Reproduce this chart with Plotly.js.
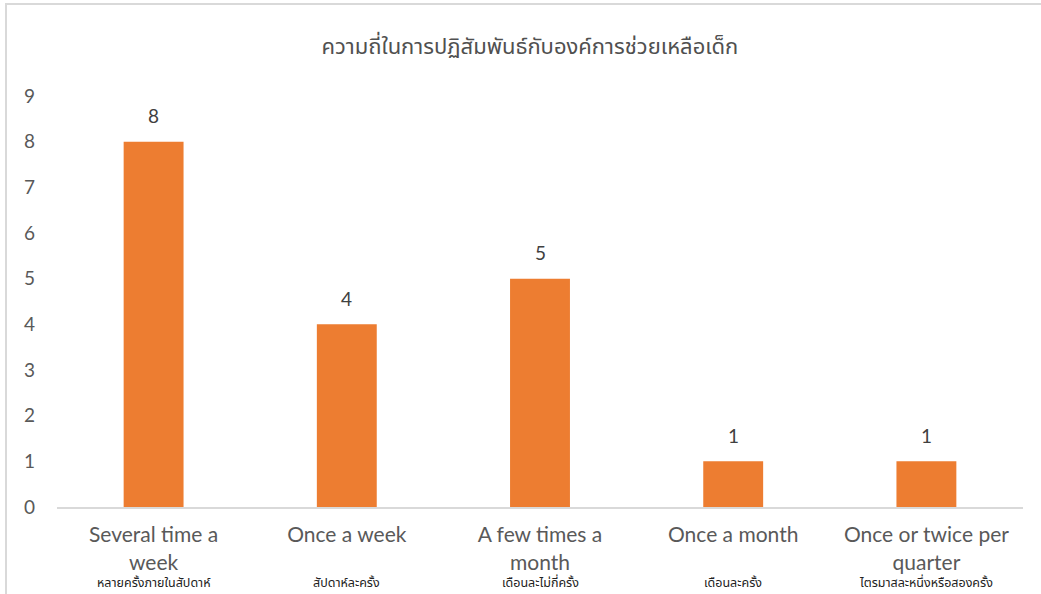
<!DOCTYPE html>
<html>
<head>
<meta charset="utf-8">
<script src="https://cdn.plot.ly/plotly-3.0.1.min.js"></script>
<style>
  html, body { margin: 0; padding: 0; background: #fff; }
  #wrap { position: relative; width: 1041px; height: 594px; overflow: hidden; }
  #chart { position: absolute; left: 0; top: 0; width: 1041px; height: 594px; }
  #frame { position: absolute; left: 5px; top: 3px; width: 1100px; height: 700px;
           border-left: 2px solid #d9d9d9; border-top: 2px solid #d9d9d9; pointer-events: none; }
</style>
</head>
<body>
<div id="wrap">
  <div id="chart"></div>
  <div id="frame"></div>
</div>
<script>
const chartTitle = "ความถี่ในการปฏิสัมพันธ์กับองค์การช่วยเหลือเด็ก";
const categories = ["Several time a week", "Once a week", "A few times a month", "Once a month", "Once or twice per quarter"];
const tickLabels = ["Several time a<br>week", "Once a week", "A few times a<br>month", "Once a month", "Once or twice per<br>quarter"];
const thaiLabels = ["หลายครั้งภายในสัปดาห์", "สัปดาห์ละครั้ง", "เดือนละไม่กี่ครั้ง", "เดือนละครั้ง", "ไตรมาสละหนึ่งหรือสองครั้ง"];
const values = [8, 4, 5, 1, 1];
const yTicks = [0, 1, 2, 3, 4, 5, 6, 7, 8, 9];

const fontMain = "Lato, 'Open Sans', sans-serif";
const grey = "#595959";

const trace = {
  type: "bar",
  x: categories,
  y: values,
  marker: { color: "#ED7D31", line: { width: 0 } },
  hoverinfo: "x+y"
};

const annotations = [];
categories.forEach((c, i) => {
  annotations.push({
    x: c, y: values[i], xref: "x", yref: "y",
    text: String(values[i]), showarrow: false,
    yanchor: "middle", yshift: 26,
    font: { family: fontMain, size: 19, color: "#404040" }
  });
  annotations.push({
    x: c, y: -0.186, xref: "x", yref: "paper",
    text: thaiLabels[i], showarrow: false,
    yanchor: "middle",
    font: { family: "'Noto Sans Thai', 'Noto Sans', sans-serif", size: 12.5, color: "#222" }
  });
});

const layout = {
  width: 1041, height: 594,
  margin: { l: 57, r: 18, t: 96, b: 87 },
  paper_bgcolor: "rgba(0,0,0,0)",
  plot_bgcolor: "#fff",
  bargap: 0.69,
  showlegend: false,
  title: {
    text: chartTitle,
    x: 0.509, xref: "container", xanchor: "center",
    y: 0.922, yref: "container", yanchor: "middle",
    font: { family: "'Noto Sans Thai', 'Noto Sans', sans-serif", size: 22, color: "#505050" }
  },
  xaxis: {
    type: "category",
    tickmode: "array",
    tickvals: categories,
    ticktext: tickLabels,
    showgrid: false,
    showline: true, linecolor: "#d9d9d9", linewidth: 2,
    ticks: "",
    tickfont: { family: fontMain, size: 21, color: grey },
    ticklabelstandoff: 8,
    zeroline: false,
    fixedrange: true
  },
  yaxis: {
    range: [0, 9],
    tickmode: "array",
    tickvals: yTicks,
    ticktext: yTicks.map(String),
    showgrid: false,
    showline: false,
    zeroline: false,
    ticks: "",
    tickfont: { family: fontMain, size: 19, color: grey },
    ticklabelstandoff: 21,
    fixedrange: true
  },
  annotations: annotations
};

Plotly.newPlot("chart", [trace], layout, { displayModeBar: false, staticPlot: true });
</script>
</body>
</html>
